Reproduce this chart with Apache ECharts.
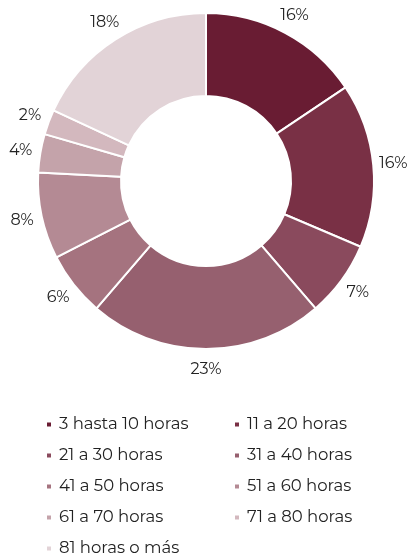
<!DOCTYPE html>
<html>
<head>
<meta charset="utf-8">
<script src="https://cdn.jsdelivr.net/npm/echarts@6/dist/echarts.min.js"></script>
<style>
  html, body { margin: 0; padding: 0; background: #fff; }
  #chart { width: 409px; height: 556px; }
</style>
</head>
<body>
<div id="chart"></div>
<script>
  // categorias y porcentajes
  var categories = ['3 hasta 10 horas', '11 a 20 horas', '21 a 30 horas', '31 a 40 horas',
    '41 a 50 horas', '51 a 60 horas', '61 a 70 horas', '71 a 80 horas', '81 horas o más'];
  var values = [15.6, 15.8, 7.3, 22.6, 6.2, 8.3, 3.7, 2.4, 18.1];
  var colors = ['#691c33', '#793045', '#8a4a5d', '#96606f', '#a5737f', '#b48a94', '#c4a3aa', '#d3b8be', '#e2d3d7'];

  var fontFamily = 'Montserrat, "Noto Sans", sans-serif';

  var pieData = categories.map(function (name, i) {
    return { name: name, value: values[i], itemStyle: { color: colors[i] } };
  });
  // anillo transparente solo para las etiquetas
  var labelData = categories.map(function (name, i) {
    return { name: name, value: values[i], itemStyle: { color: 'transparent' } };
  });

  var leftCol = categories.filter(function (c, i) { return i % 2 === 0; });
  var rightCol = categories.filter(function (c, i) { return i % 2 === 1; });

  var legendBase = {
    orient: 'vertical',
    top: 416,
    height: 150,
    padding: 0,
    icon: 'rect',
    itemWidth: 6,
    itemHeight: 6,
    itemGap: 14,
    selectedMode: false,
    textStyle: { fontFamily: fontFamily, fontSize: 16.5, color: '#222', lineHeight: 16, padding: [0, 0, 0, 2] }
  };

  var chart = echarts.init(document.getElementById('chart'));
  chart.setOption({
    backgroundColor: '#fff',
    legend: [
      Object.assign({}, legendBase, { left: 45, data: leftCol }),
      Object.assign({}, legendBase, { left: 233, data: rightCol })
    ],
    series: [
      {
        type: 'pie',
        center: [206, 181],
        radius: [85, 168],
        startAngle: 90,
        clockwise: true,
        silent: true,
        itemStyle: { borderColor: '#fff', borderWidth: 2 },
        label: { show: false },
        labelLine: { show: false },
        data: pieData
      },
      {
        type: 'pie',
        center: [206, 181],
        radius: [170, 200],
        startAngle: 90,
        clockwise: true,
        silent: true,
        label: {
          show: true,
          position: 'inside',
          fontFamily: fontFamily,
          fontSize: 16,
          color: '#222',
          formatter: function (p) { return Math.round(p.value) + '%'; }
        },
        labelLine: { show: false },
        data: labelData
      }
    ]
  });
</script>
</body>
</html>
